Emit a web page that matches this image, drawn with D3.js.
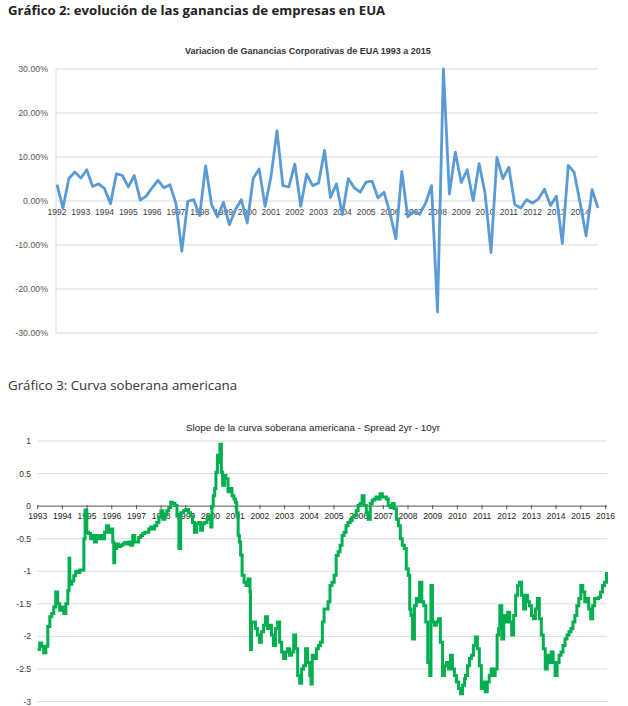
<!DOCTYPE html>
<html><head><meta charset="utf-8">
<script src="https://cdn.jsdelivr.net/npm/d3@7"></script>
<style>
html,body{margin:0;padding:0;background:#fff;}
svg{display:block;}
</style></head>
<body>
<svg id="c" width="628" height="706"></svg>
<script>
// ---------- Chart 1 data: quarterly change in US corporate profits (%) ----------
const yearLabels1 = ["1992","1993","1994","1995","1996","1997","1998","1999","2000","2001","2002","2003","2004","2005","2006","2007","2008","2009","2010","2011","2012","2013","2014"];
const gananciasValues = [3.7,-1.6,5.1,6.6,5.2,7.1,3.3,3.9,2.8,-0.6,
6.2,5.8,3.2,5.8,0.2,1.1,3.0,4.7,3.0,3.7,
-0.5,-11.4,-0.1,0.3,-3.3,8.0,-0.8,-3.6,-0.3,-5.4,
-2.0,0.3,-5.0,5.1,7.3,-1.2,5.6,16.0,3.5,3.2,
8.4,-1.2,6.1,3.5,4.1,11.5,0.8,3.9,-3.1,5.1,
3.0,2.0,4.3,4.5,0.7,2.0,-2.7,-8.6,6.7,-3.6,
-2.3,-3.0,-0.5,3.5,-25.2,30.0,1.6,11.1,4.2,7.1,
0.1,8.5,1.8,-11.7,9.9,5.1,7.7,-0.8,-1.6,0.3,
-0.5,0.5,2.7,-1.0,1.1,-9.7,8.1,6.5,-0.5,-7.9,
2.6,-1.6];
const yTicks1 = [30,20,10,0,-10,-20,-30];

// ---------- Chart 2 data: 2yr - 10yr spread ----------
const yearLabels2 = d3.range(1993, 2017);
const yTicks2 = [1,0.5,0,-0.5,-1,-1.5,-2,-2.5,-3];
const spreadDates = [
1993.00,1993.08,1993.16,1993.24,1993.33,1993.41,1993.49,1993.57,1993.65,1993.73,1993.81,1993.89,1993.98,
1994.06,1994.14,1994.22,1994.27,1994.30,1994.38,1994.46,1994.54,1994.63,1994.71,1994.79,1994.87,1994.92,1994.99,
1995.06,1995.14,1995.22,1995.30,1995.38,1995.47,1995.55,1995.63,1995.71,1995.79,1995.87,1995.95,
1996.04,1996.08,1996.12,1996.20,1996.28,1996.36,1996.44,1996.52,1996.60,1996.69,1996.77,1996.85,1996.93,
1997.01,1997.09,1997.17,1997.25,1997.34,1997.42,1997.50,1997.58,1997.66,1997.74,1997.82,1997.91,1997.99,
1998.07,1998.15,1998.23,1998.31,1998.39,1998.47,1998.56,1998.64,1998.72,1998.79,
1998.84,1998.91,1999.00,1999.11,1999.19,1999.27,1999.35,1999.44,1999.52,1999.60,1999.68,1999.76,1999.86,1999.92,
2000.01,2000.06,2000.11,2000.17,2000.22,2000.28,2000.33,2000.38,2000.44,2000.49,2000.57,2000.62,2000.71,2000.79,2000.87,2000.95,
2001.01,2001.06,2001.12,2001.17,2001.22,2001.28,2001.36,2001.44,2001.52,2001.60,2001.62,2001.66,2001.74,2001.82,2001.90,2001.98,
2002.06,2002.15,2002.23,2002.31,2002.39,2002.47,2002.55,2002.63,2002.72,2002.80,2002.88,2002.96,
2003.04,2003.12,2003.20,2003.28,2003.37,2003.45,2003.53,2003.61,2003.69,2003.77,2003.85,2003.93,
2004.02,2004.07,2004.12,2004.20,2004.29,2004.37,2004.45,2004.53,2004.60,
2004.68,2004.76,2004.84,2004.92,2005.01,2005.09,2005.17,2005.25,2005.33,2005.41,2005.49,2005.57,2005.66,2005.74,2005.82,2005.90,2005.98,
2006.06,2006.14,2006.22,2006.31,2006.39,2006.47,2006.55,2006.63,2006.71,2006.79,2006.87,2006.96,
2007.04,2007.12,2007.20,2007.28,2007.36,2007.44,2007.53,2007.61,2007.69,2007.77,2007.85,2007.93,
2008.01,2008.07,2008.12,2008.18,2008.26,2008.34,2008.42,2008.47,2008.56,2008.64,2008.72,2008.80,2008.88,2008.93,2008.99,
2009.07,2009.15,2009.23,2009.31,2009.40,2009.48,2009.56,2009.64,2009.72,2009.80,2009.88,2009.96,
2010.05,2010.13,2010.21,2010.29,
2010.33,2010.41,2010.49,2010.57,2010.65,2010.73,2010.81,2010.89,2010.97,
2011.05,2011.13,2011.21,2011.29,2011.37,2011.45,2011.53,2011.61,2011.67,2011.72,2011.80,2011.88,2011.96,
2012.04,2012.12,2012.20,2012.28,2012.36,2012.44,2012.52,2012.60,2012.68,2012.76,2012.84,2012.92,
2013.00,2013.08,2013.16,2013.24,2013.32,2013.40,2013.48,2013.56,2013.64,2013.72,2013.80,2013.88,2013.96,
2014.04,2014.12,2014.20,2014.28,2014.36,2014.44,2014.52,2014.60,2014.68,2014.76,2014.84,2014.92,
2015.00,2015.08,2015.16,2015.24,2015.32,2015.40,2015.48,2015.56,2015.64,2015.72,2015.80,2015.88,2015.96,2016.04];
const spreadValues = [
-2.20,-2.10,-2.15,-2.25,-2.15,-1.85,-1.70,-1.65,-1.55,-1.32,-1.50,-1.60,-1.55,
-1.65,-1.50,-1.30,-0.80,-1.20,-1.15,-1.07,-1.00,-1.02,-0.98,-0.98,-0.50,-0.06,-0.40,
-0.42,-0.50,-0.45,-0.55,-0.45,-0.50,-0.45,-0.50,-0.40,-0.30,-0.40,-0.35,
-0.55,-0.87,-0.65,-0.58,-0.62,-0.60,-0.58,-0.56,-0.58,-0.55,-0.60,-0.45,-0.55,
-0.55,-0.48,-0.45,-0.42,-0.40,-0.40,-0.35,-0.32,-0.35,-0.30,-0.25,-0.17,-0.07,
-0.20,-0.12,-0.07,-0.02,0.06,0.04,0.01,-0.15,-0.65,-0.10,
-0.10,-0.07,-0.05,-0.10,-0.15,-0.25,-0.40,-0.27,-0.25,-0.37,-0.27,-0.25,-0.20,-0.15,
-0.32,0.00,0.16,0.27,0.52,0.78,0.67,0.95,0.52,0.32,0.47,0.42,0.22,0.27,0.16,0.11,
0.06,-0.10,-0.45,-0.55,-0.75,-1.06,-1.17,-1.22,-1.12,-1.32,-2.20,-1.78,-1.78,-1.88,-1.98,-2.09,
-1.93,-1.83,-1.70,-1.88,-1.83,-1.98,-2.14,-1.88,-1.78,-2.09,-2.24,-2.34,
-2.24,-2.19,-2.29,-2.24,-1.98,-2.19,-2.60,-2.72,-2.50,-2.45,-2.19,-2.40,
-2.60,-2.73,-2.29,-2.34,-2.19,-2.14,-2.09,-1.78,-1.58,
-1.58,-1.47,-1.22,-1.17,-1.06,-0.76,-0.70,-0.60,-0.45,-0.40,-0.30,-0.25,-0.22,-0.17,-0.14,-0.07,0.01,
0.04,0.16,0.01,-0.10,-0.20,0.04,0.09,0.11,0.14,0.11,0.19,0.14,
0.14,0.11,0.01,-0.02,0.04,-0.04,-0.20,-0.30,-0.50,-0.60,-0.65,-0.96,
-1.06,-1.58,-1.68,-2.04,-1.53,-1.42,-1.47,-1.17,-1.47,-1.53,-1.78,-2.40,-2.60,-1.22,-1.78,
-1.83,-1.78,-1.73,-2.09,-2.60,-2.45,-2.40,-2.50,-2.29,-2.50,-2.60,-2.70,
-2.80,-2.88,-2.75,-2.65,
-2.60,-2.45,-2.34,-2.29,-2.14,-2.01,-2.19,-2.45,-2.80,
-2.70,-2.85,-2.70,-2.60,-2.50,-2.60,-2.50,-1.98,-1.88,-1.53,-2.04,-1.68,-1.78,
-1.63,-1.78,-1.98,-1.68,-1.37,-1.22,-1.17,-1.37,-1.58,-1.37,-1.47,-1.53,
-1.68,-1.73,-1.58,-1.42,-1.73,-1.98,-2.19,-2.50,-2.29,-2.40,-2.24,-2.40,-2.60,
-2.40,-2.29,-2.24,-2.14,-2.04,-1.98,-1.93,-1.88,-1.78,-1.68,-1.53,-1.42,
-1.22,-1.32,-1.47,-1.42,-1.58,-1.73,-1.53,-1.42,-1.42,-1.40,-1.32,-1.22,-1.17,-1.01];

const svg = d3.select("#c");
const chartFont = "'Liberation Sans', Arial, sans-serif";
const headFont = "'Open Sans', sans-serif";

// Headers
svg.append("text").attr("x", 8).attr("y", 15)
  .attr("font-family", headFont).attr("font-weight", 700).attr("font-size", 13.2)
  .attr("fill", "#222").text("Gráfico 2: evolución de las ganancias de empresas en EUA");
svg.append("text").attr("x", 8).attr("y", 390)
  .attr("font-family", headFont).attr("font-size", 13.3)
  .attr("fill", "#333").text("Gráfico 3: Curva soberana americana");

// ---------- Chart 1 ----------
const g1 = svg.append("g");
const x1 = d3.scalePoint().domain(d3.range(gananciasValues.length)).range([57, 598]);
const y1 = d3.scaleLinear().domain([-30, 30]).range([333, 69]);

g1.append("text").attr("x", 308).attr("y", 54).attr("text-anchor", "middle")
  .attr("font-family", chartFont).attr("font-weight", 700).attr("font-size", 9)
  .attr("fill", "#333").text("Variacion de Ganancias Corporativas de EUA 1993 a 2015");

g1.selectAll("line.grid").data(yTicks1).join("line")
  .attr("x1", 56).attr("x2", 598).attr("y1", d => y1(d)).attr("y2", d => y1(d))
  .attr("stroke", "#d9d9d9").attr("stroke-width", 1);
g1.append("line").attr("x1", 56).attr("x2", 56).attr("y1", y1(30)).attr("y2", y1(-30))
  .attr("stroke", "#d9d9d9");
g1.selectAll("text.yl").data(yTicks1).join("text")
  .attr("x", 48).attr("y", d => y1(d) + 3).attr("text-anchor", "end")
  .attr("font-family", chartFont).attr("font-size", 8.8).attr("fill", "#595959")
  .text(d => d.toFixed(2) + "%");
g1.selectAll("text.xl").data(yearLabels1).join("text")
  .attr("x", (d, i) => x1(i * 4)).attr("y", 215).attr("text-anchor", "middle")
  .attr("font-family", chartFont).attr("font-size", 8.5).attr("fill", "#404040")
  .text(d => d);
g1.append("path").datum(gananciasValues)
  .attr("d", d3.line().x((d, i) => x1(i)).y(d => y1(d)))
  .attr("fill", "none").attr("stroke", "#5B9BD5").attr("stroke-width", 2.8)
  .attr("stroke-linejoin", "round");

// ---------- Chart 2 ----------
const g2 = svg.append("g");
const x2 = d3.scaleLinear().domain([1993, 2016]).range([37.7, 605.5]);
const y2 = d3.scaleLinear().domain([-3, 1]).range([701.5, 441]);

g2.append("text").attr("x", 313).attr("y", 431).attr("text-anchor", "middle")
  .attr("font-family", chartFont).attr("font-size", 9.9)
  .attr("fill", "#222").text("Slope de la curva soberana americana - Spread 2yr - 10yr");

g2.selectAll("line.grid").data(yTicks2.filter(d => d !== 0)).join("line")
  .attr("x1", 37).attr("x2", 607).attr("y1", d => y2(d)).attr("y2", d => y2(d))
  .attr("stroke", "#dcdcdc").attr("stroke-width", 1);
g2.selectAll("text.yl").data(yTicks2).join("text")
  .attr("x", 31).attr("y", d => y2(d) + 3).attr("text-anchor", "end")
  .attr("font-family", chartFont).attr("font-size", 8.5).attr("fill", "#333")
  .text(d => String(d));
g2.selectAll("line.tick").data(yearLabels2).join("line")
  .attr("x1", d => x2(d)).attr("x2", d => x2(d)).attr("y1", y2(0) - 1).attr("y2", y2(0) + 3)
  .attr("stroke", "#555");
g2.append("line").attr("x1", 37).attr("x2", 607).attr("y1", y2(0)).attr("y2", y2(0))
  .attr("stroke", "#555").attr("stroke-width", 1);
g2.selectAll("text.xl").data(yearLabels2).join("text")
  .attr("x", d => x2(d)).attr("y", 519).attr("text-anchor", "middle")
  .attr("font-family", chartFont).attr("font-size", 8.5).attr("fill", "#222")
  .text(d => String(d));
g2.append("path").datum(spreadValues)
  .attr("d", d3.line().curve(d3.curveStepAfter).x((d, i) => x2(spreadDates[i])).y(d => y2(d)))
  .attr("fill", "none").attr("stroke", "#00B050").attr("stroke-width", 3)
  .attr("stroke-linejoin", "miter");
</script>
</body></html>
